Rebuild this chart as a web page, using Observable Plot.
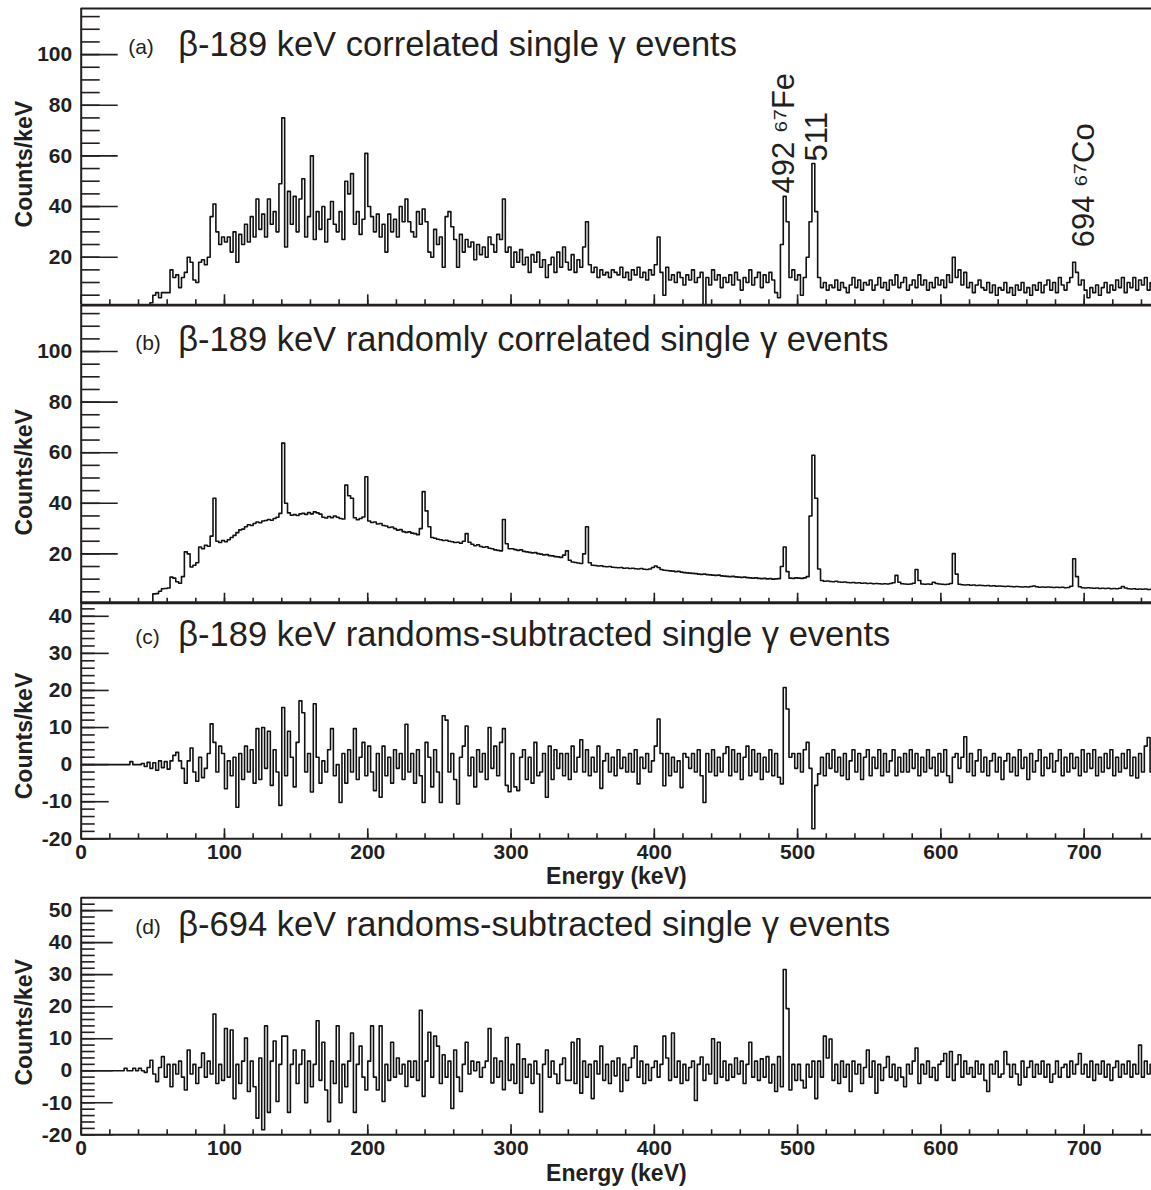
<!DOCTYPE html>
<html>
<head>
<meta charset="utf-8">
<script src="https://cdn.jsdelivr.net/npm/d3@7"></script>
<script src="https://cdn.jsdelivr.net/npm/@observablehq/plot@0.6"></script>
<style>
html, body { margin: 0; padding: 0; background: #fff; overflow: hidden; }
#fig { position: relative; width: 1151px; height: 1190px; background: #fff; }
#fig > div { position: absolute; left: 0; }
</style>
</head>
<body>
<div id="fig"></div>
<script>
// ---------------- DATA (2 keV bins, bin left edges 0,2,...,748) ----------------
const binWidth = 2;
const energyTicks = [0, 100, 200, 300, 400, 500, 600, 700];
const minorEnergyTicks = d3.range(0, 747, 20);

// (a) beta-189 keV correlated single gamma events (counts/keV)
const correlated189 = [
  0,0,0,0,0,0,0,0,0,0,0,0,0,0,0,0,0,0,0,0,0,0,0,0,2,
  5,6,4,6,6,6,15,12,13,8,12,14,20,18,11,10,18,19,17,20,36,41,30,25,28,
  26,28,22,30,18,29,25,33,26,36,28,43,31,37,28,43,33,38,30,49,75,24,46,33,44,
  30,43,51,28,36,60,27,38,31,40,26,35,42,33,30,38,27,50,45,53,33,38,29,35,61,
  40,36,30,37,28,33,22,37,30,35,28,40,34,43,34,30,28,38,33,39,34,22,20,31,25,
  28,16,36,38,32,27,16,29,22,27,24,26,19,25,21,24,20,28,25,22,29,27,43,22,24,
  16,22,18,23,17,20,14,21,18,22,16,19,12,17,20,14,22,16,24,18,15,21,14,19,16,
  24,34,17,14,16,12,15,13,14,12,15,14,13,16,12,14,11,15,13,16,12,14,11,15,13,
  17,28,14,5,16,11,13,10,14,12,9,13,11,15,10,12,14,1,12,9,15,11,13,8,12,
  10,13,9,14,11,7,12,10,15,9,12,14,8,13,10,14,11,6,4,25,44,34,12,15,11,
  13,5,12,20,34,57,38,12,8,10,7,9,8,11,7,10,8,6,9,12,8,11,7,10,9,
  11,7,9,12,8,10,7,11,9,13,8,10,12,7,9,11,8,13,9,11,7,10,8,12,9,
  11,8,13,10,20,12,15,9,14,8,10,6,9,11,8,7,10,6,9,5,8,7,10,6,8,
  5,9,7,10,6,8,5,9,7,10,6,9,11,7,10,6,12,9,7,10,12,18,14,9,11,
  7,4,8,6,9,5,8,10,6,9,7,11,8,12,6,10,8,12,7,11,9,12,7,10,9
];

// (b) beta-189 keV randomly correlated single gamma events
const randoms189 = [
  0,0,0,0,0,0,0,0,0,0,0,0,0,0,0,0,0,0,0,0,0,0,0,0,0.5,
  4.2,4.3,5.2,6.2,6.3,6.5,10.8,10.4,9,8.4,11,20.8,20,14.8,15.5,16.5,22.7,22,23.4,23,27,42,25,24.5,25.3,
  24.8,25.6,26.5,27.3,28.4,29.5,29.8,30.7,31.5,31.2,32,32.6,32.3,33,33.2,33.6,33.3,34,34.5,36,63.8,40,36.2,35.3,35.5,
  35.2,35.8,36,35.6,36.3,35.8,36.6,36.2,35.7,34.5,34.2,34.8,34.3,35,34.5,34,33.8,47.2,43,42,34.3,33.5,34,34.6,50.5,
  33,32.4,32.6,31.8,32,31.2,31,30.4,30.6,30,29.4,29.6,28.8,28.5,28.7,28.2,28,27.6,30,44.6,37,30.7,26.5,26.2,25.8,
  25.6,25.3,25.4,25,24.8,24.5,24.6,24.2,25,28,24.6,23.8,23.2,23.6,22.9,22.6,22.8,22.2,22,21.6,21.4,21.2,33.6,24,22,
  22,21.7,21.4,21.6,21,20.8,20.6,20.4,20.5,20.1,19.9,19.6,19.7,19.3,19.2,18.9,18.8,18.6,19.5,21.2,17.5,16.8,16.6,16.4,16.2,
  20,30.7,16.5,15.5,15.4,15.2,15.3,15,14.9,15,14.7,14.6,14.5,14.6,14.3,14.4,14.2,14.3,14.1,14,14.2,13.9,13.8,14,14.6,
  15.2,14.6,13.8,13.5,13.4,13.3,13.2,13,13.1,12.8,12.6,12.5,12.4,12.3,12.2,12,11.9,12,11.8,11.7,11.6,11.5,11.6,11.3,11.2,
  11.1,11,11.1,10.9,10.8,10.7,10.8,10.6,10.5,10.4,10.5,10.3,10.2,10.3,10.1,10.2,10,10.1,10.2,15,22.7,13,10.4,10.3,10.5,
  10.4,10.3,10.5,11,35,59,42,14,9.5,9.2,9.3,9.1,9,9.2,8.9,8.8,8.9,8.7,8.6,8.7,8.5,8.6,8.4,8.5,8.3,
  8.4,8.2,8.3,8.2,8.1,8.2,8.1,8.3,8.6,11.5,8.8,8.2,8.1,8,8.1,8.4,13.8,9.5,8.1,8,8.1,8,8.8,8.3,8.1,
  8,7.9,8,8.3,20.1,12,8,7.8,7.7,7.8,7.6,7.7,7.5,7.6,7.5,7.4,7.5,7.3,7.4,7.2,7.3,7.2,7.1,7.2,7.1,
  7,7.1,7,6.9,7,6.9,7.1,7.3,7,6.8,6.9,6.8,6.9,6.8,6.7,6.8,6.7,6.8,6.6,6.7,7.2,18.1,11,7,6.6,
  6.5,6.6,6.5,6.4,6.5,6.3,6.4,6.3,6.4,6.2,6.3,6.2,6.4,7.1,6.5,6.2,6.1,6.2,6,6.1,6,6.1,5.9,6,6
];

// (c) beta-189 keV randoms-subtracted single gamma events
const subtracted189 = [
  0,0,0,0,0,0,0,0,0,0,0,0,0,0,0,0,0,0.8,0,0,0,0.3,-0.5,0.6,-1,
  0.5,-1.5,1,-0.8,0.8,-1.2,1,2.5,3.3,1,-1,-5,1,4.5,-2,-4.5,2,-3.5,-1,3,11,6,-2,5,3,
  -6.5,1,-3,2,-11.5,3,-4,5,-2,4,-5,9.7,-4,10,-1,9,-5.6,4,-2,-11,15.4,-3,9,2,-6,
  6,17.2,14,-2,3,-7.4,16.4,2,-5,1,-2,4,9.7,-3,0,-10.2,3,-5,4,-2,9.7,-4,2,6,-3,
  5,-2,-7,3,-8.8,5,-3,2,-5,4,-1,3,-4,10.9,-2,3,-5,4,-3,-10.2,6,2,-6,4,-2,
  -10.2,13.2,12,-2,3,-4,-10.6,2,5,10.4,-3,2,-6,4,-2,3,-4,10,-1,5,-3,6,9.7,-5.6,-7.3,
  3,-6,-7,2,4,-4,2,-5,6,-3,-2,3,-8.8,5,-4,4,-1,3,-3,3,-4,5,-2,2,6.7,
  -2,4,-3,2,-2,5,-6.4,1,3,-2,2,-3,4,-1,2,-2,3,-2,4,-5.2,2,-1,3,-2,1,
  5,12.3,3,-5.7,3,-3,2,-2,1,-6.2,3,2,-1,3,-2,4,-3,-10.2,3,-2,4,-3,2,-2,3,
  4.8,-3,4,-2,3,-4,2,5,-3,4,-2,3,-4,2,-2,4,-3,3,-3.4,-5.2,20.8,15,2,3,-1,
  3,-2,4,6,-1,-17.3,-5.6,-2.5,2,-3,3,-1,4,-2,2,-3,3,-4,1,4,-2,3,-4,2,4,
  -3,2,-1,4,-3,3,-2,1,4,-3,2,-2,3,-2,4,-1,3,-3,2,-2,4,-1,2,-3,3,
  -2,4,-3,-4.8,2,3,-1,2,7.5,-2,3,-3,1,4,-2,2,-3,1,3,-2,2,-4,1,3,-2,
  2,-3,4,-1,2,-4,3,-2,1,4,-3,2,-1,3,-2,1,4,-3,2,-2,3,-1,2,-3,4,
  -2,3,-1,4,-3,2,-2,3,-1,4,-3,2,-2,3,-1,4,-3,2,-3.6,3,-2,5,7.3,-2,3
];

// (d) beta-694 keV randoms-subtracted single gamma events
const subtracted694 = [
  0,0,0,0,0,0,0,0,0,0,0,0,0,0,0,0.8,0,0,0.8,0,0.8,0,-0.5,1,3.3,
  -1,-3.4,1,4.4,-2,2,-5,2,-1,3,-2,-6,6.5,-1,2,-4,1,5.5,-2,3,-1,17.7,-4,2,-3,
  13.2,-2,12.7,-8.7,2,-4,3,10.2,-6.5,3,-5,-14.8,4,-18.4,14,-13,3,9.3,-9.6,2,10.8,10.8,-13,2,6.5,
  -4,2,6.5,-10,3,-5,2,15.6,-3,8.9,-6,-15.9,3,-4,14,-10,2,-5,3,11.8,-13,2,7.7,-2,-6,
  3,14,-2,-6,14,-9.6,2,-3,8.9,-2,4,-1,2,-4.9,3,-2,3,-3,18.9,-8,3,12,-2,10.8,7.7,
  -4,5,-2,3,-11.8,6.5,-2,-6.5,2,8.9,-1,3,0,2.7,-2,1,3,13.2,-3.8,4,-2,3,-5.9,10.4,-3,
  2,-4,8.3,-7,3.7,-2,2,-4,3,-1,-12.9,2,6.5,-2,3,-1,-4,2,4,-3,-3,8.9,-4,10,-7,
  3,-2,2,-8.7,3,-1,7.7,-3,2,-4,3,-1.6,4,-6.5,2,-3,1,4,7.7,-2,3,-4,2,-3,1,
  3,-2,2,10.8,4,-3,11.8,-2,3,-4,2,-3,1,3,-9.3,2,4.3,-3,2,-1,10,-4,8.9,-2,3,
  -3,2,-2,4,-1,3,-4,2,8.9,-2,3,-3,3.7,-2,4.4,-3.8,2,-6.5,4.4,-5,31.6,19.4,-6,2,-3,
  2,-3,-5.4,2,-2,3,-8.7,3,-2,10.8,4,9.9,-3,2,-4,3,-2,2,-6.5,3,-1,2,-4,1,6.5,
  -2,3,-7,2,-3,1,4.4,-2,2,-3,1,-2,-5,2,-1,3,7.1,-4,2,-1,3,-2,1,-3,2,
  3,5.4,-2,6,-3,2,5,-2,3,-1,1,-2,3,-1,2,-3,-6.5,2,-1,3,-2,-1,6,2,-2,
  2,-1,-4.4,3,-2,1,3,-2,2,-1,3,-2,2,-3.6,-1,3,-2,1,2,-2,3,-1,2,5.4,-1,
  2,-2,3,-3,2,-1,3,-2,2,-3,1,3,-2,2,-1,3,-2,2,-1,8,-2,3,-1,2,-2
];

// Peak annotations in panel (a)
const peakLabels = ["492 \u2076\u2077Fe", "511", "694 \u2076\u2077Co"];
const peakBins = [490, 510, 692];

const panelTags = ["(a)", "(b)", "(c)", "(d)"];
const panelTitles = [
  "\u03b2-189 keV correlated single \u03b3 events",
  "\u03b2-189 keV randomly correlated single \u03b3 events",
  "\u03b2-189 keV randoms-subtracted single \u03b3 events",
  "\u03b2-694 keV randoms-subtracted single \u03b3 events"
];
const yTitle = "Counts/keV";
const xTitle = "Energy (keV)";

// ---------------- RENDERING ----------------
const INK = "#231f20";
const FONT = "'Liberation Sans', Arial, Helvetica, sans-serif";
const W = 1151, ML = 80.7, XMAX = 747;

function histogram(values) {
  const pts = values.map((c, i) => ({e: i * binWidth, c}));
  pts.push({e: values.length * binWidth, c: values[values.length - 1]});
  return pts;
}

const panels = [
  {values: correlated189, top: 0, height: 306, mt: 8, mb: 1.7, yDomain: [1.2, 118.2],
   minorY: d3.range(5, 118, 5), majorY: [20, 40, 60, 80, 100], majorLen: 37, minorLen: 19,
   tagDx: 47, tagDy: 45.5, titleDy: 47, countsDy: 7.5, xLabels: false, annotate: true},
  {values: randoms189, top: 304, height: 300, mt: 1, mb: 1.3, yDomain: [0.5, 118.2],
   minorY: d3.range(5, 118, 5), majorY: [20, 40, 60, 80, 100], majorLen: 37, minorLen: 19,
   tagDx: 54, tagDy: 44, titleDy: 45, countsDy: 18, xLabels: false},
  {values: subtracted189, top: 600, height: 295, mt: 1.7, mb: 56.7, yDomain: [-20, 43.8],
   minorY: d3.range(-20, 43, 2), majorY: [-20, -10, 0, 10, 20, 30, 40], majorLen: 28, minorLen: 14,
   tagDx: 54, tagDy: 42, titleDy: 43.3, countsDy: 15.5, xLabels: true, xTitleDy: 45},
  {values: subtracted694, top: 893, height: 297, mt: 4.3, mb: 55.7, yDomain: [-20, 54],
   minorY: d3.range(-20, 53, 2), majorY: [-20, -10, 0, 10, 20, 30, 40, 50], majorLen: 32, minorLen: 14,
   tagDx: 54, tagDy: 36.5, titleDy: 37.7, countsDy: 6, xLabels: true, xTitleDy: 46}
];

const fig = document.getElementById("fig");

panels.forEach((cfg, k) => {
  const plotW = W - ML;
  const plotH = cfg.height - cfg.mt - cfg.mb;
  const [yMin, yMax] = cfg.yDomain;
  const marks = [
    Plot.line(histogram(cfg.values), {x: "e", y: "c", curve: "step-after", stroke: "#111", strokeWidth: 1.6, clip: true}),
    Plot.ruleY(cfg.minorY, {insetRight: plotW - cfg.minorLen, stroke: INK, strokeWidth: 1.6}),
    Plot.ruleY(cfg.majorY, {insetRight: plotW - cfg.majorLen, stroke: INK, strokeWidth: 1.6}),
    Plot.ruleX(minorEnergyTicks, {insetTop: plotH - 5, stroke: INK, strokeWidth: 1.6}),
    Plot.ruleX(energyTicks, {insetTop: plotH - 10, stroke: INK, strokeWidth: 1.6}),
    Plot.ruleX([0], {stroke: INK, strokeWidth: 2}),
    Plot.ruleY([yMin, yMax], {stroke: INK, strokeWidth: 2}),
    Plot.axisY(cfg.majorY, {tickSize: 0, tickPadding: 9, fontSize: 21, fontWeight: "bold",
      tickFormat: d => String(d), label: null, fill: INK}),
    Plot.text([panelTags[k]], {text: d => d, frameAnchor: "top-left", dx: cfg.tagDx, dy: cfg.tagDy,
      textAnchor: "start", lineAnchor: "bottom", fontSize: 21, fill: INK}),
    Plot.text([panelTitles[k]], {text: d => d, frameAnchor: "top-left", dx: 97, dy: cfg.titleDy,
      textAnchor: "start", lineAnchor: "bottom", fontSize: 34.5, fill: INK}),
    Plot.text([yTitle], {text: d => d, frameAnchor: "left", dx: -49.2, dy: cfg.countsDy, rotate: -90,
      textAnchor: "middle", lineAnchor: "bottom", fontSize: 23, fontWeight: "bold", fill: INK})
  ];
  if (cfg.xLabels) {
    marks.push(
      Plot.axisX(energyTicks, {tickSize: 0, tickPadding: 5, fontSize: 21, fontWeight: "bold",
        tickFormat: d => String(d), label: null, fill: INK}),
      Plot.text([xTitle], {text: d => d, frameAnchor: "bottom", dy: cfg.xTitleDy, lineAnchor: "bottom",
        fontSize: 23, fontWeight: "bold", fill: INK})
    );
  }
  if (cfg.annotate) {
    const offsets = [[8.8, -3], [14, -2], [19.5, -15]];
    peakBins.forEach((b, i) => {
      marks.push(Plot.text([{e: b + binWidth / 2, c: cfg.values[b / binWidth], label: peakLabels[i]}], {
        x: "e", y: "c", text: "label", rotate: -90, textAnchor: "start", lineAnchor: "bottom",
        dx: offsets[i][0], dy: offsets[i][1], fontSize: 31, fill: INK
      }));
    });
  }
  const svg = Plot.plot({
    width: W, height: cfg.height,
    marginLeft: ML, marginRight: 0, marginTop: cfg.mt, marginBottom: cfg.mb,
    x: {domain: [0, XMAX], axis: cfg.xLabels ? undefined : null},
    y: {domain: cfg.yDomain},
    style: {background: "transparent", overflow: "visible", fontFamily: FONT, color: INK},
    marks
  });
  const holder = document.createElement("div");
  holder.style.top = cfg.top + "px";
  holder.appendChild(svg);
  fig.appendChild(holder);
});
</script>
</body>
</html>
